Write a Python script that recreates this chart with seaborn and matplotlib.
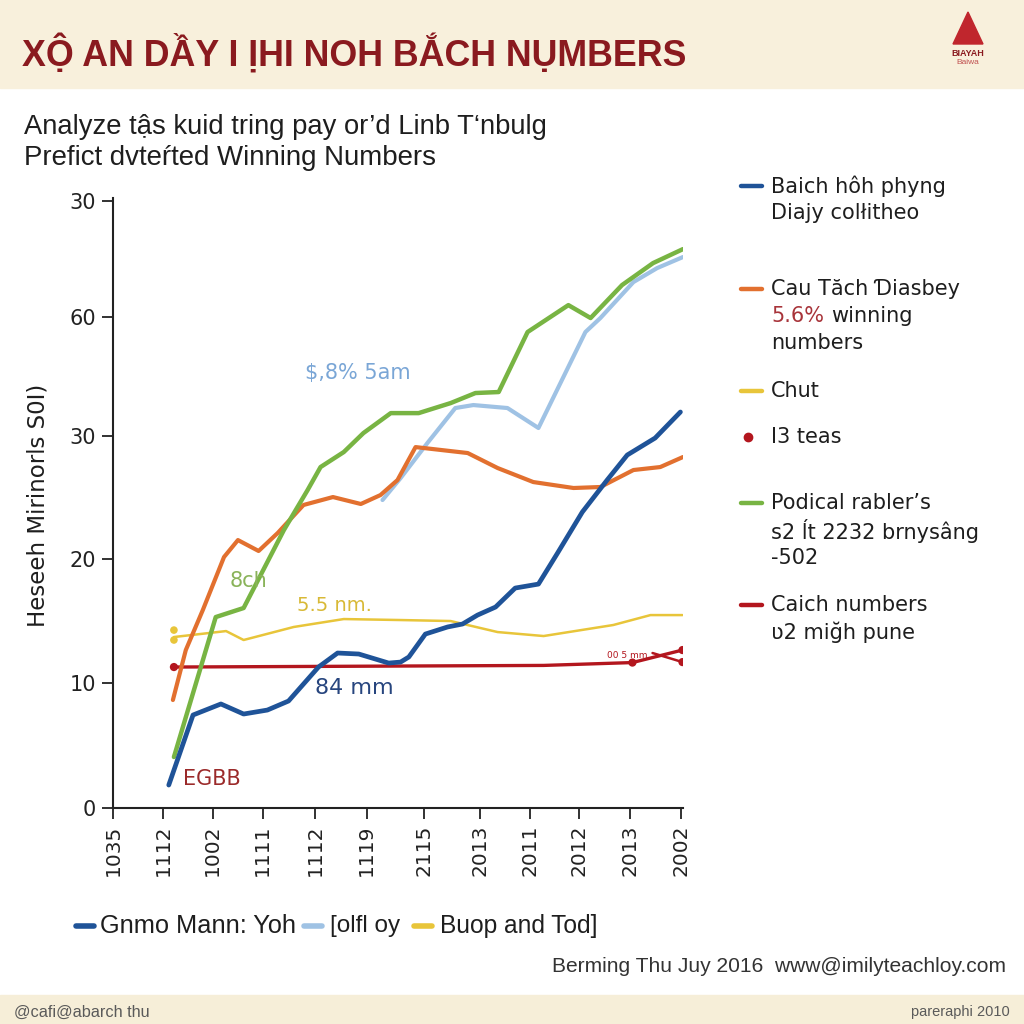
import numpy as np
import pandas as pd
import matplotlib
matplotlib.use("Agg")
import matplotlib.pyplot as plt
from matplotlib.patches import Rectangle, Polygon
from matplotlib.lines import Line2D
from matplotlib import font_manager
import seaborn as sns

# ---------------- data ----------------
x_tick_pos = [0, 0.97, 1.93, 2.90, 3.92, 4.91, 6.03, 7.10, 8.07, 9.03, 10.02, 11.0]
x_tick_labels = ["1035", "1112", "1002", "1111", "1112", "1119", "2115", "2013",
                 "2011", "2012", "2013", "2002"]
y_tick_pos = [0, 10.08, 20.08, 30.0, 39.6, 48.95]
y_tick_labels = ["0", "10", "20", "30", "60", "30"]

blue_x = [1.08, 1.55, 2.09, 2.53, 2.99, 3.40, 3.98, 4.35, 4.76, 5.34, 5.57, 5.73, 6.05, 6.48,
          6.77, 7.06, 7.41, 7.79, 8.24, 8.61, 9.09, 9.57, 9.96, 10.50, 10.99]
blue_y = [1.85, 7.5, 8.39, 7.58, 7.90, 8.63, 11.37, 12.5, 12.42, 11.69, 11.77, 12.18, 14.03,
          14.6, 14.84, 15.56, 16.21, 17.74, 18.06, 20.56, 23.87, 26.45, 28.47, 29.84, 31.94]

orange_x = [1.16, 1.41, 1.74, 2.15, 2.42, 2.82, 3.19, 3.69, 4.26, 4.80, 5.18, 5.51, 5.86,
            6.87, 7.45, 8.14, 8.92, 9.44, 10.08, 10.60, 11.04]
orange_y = [8.71, 12.74, 15.97, 20.24, 21.61, 20.73, 22.18, 24.44, 25.08, 24.52, 25.24, 26.45,
            29.11, 28.63, 27.42, 26.29, 25.81, 25.89, 27.26, 27.50, 28.31]

green_x = [1.18, 1.99, 2.53, 3.31, 3.77, 4.02, 4.47, 4.85, 5.38, 5.92, 6.54, 7.02, 7.47,
           8.03, 8.82, 9.25, 9.86, 10.46, 11.04]
green_y = [4.11, 15.40, 16.13, 22.42, 25.65, 27.50, 28.71, 30.24, 31.85, 31.85, 32.66, 33.47,
           33.55, 38.39, 40.56, 39.52, 42.18, 43.95, 45.08]

lightblue_x = [5.22, 5.57, 6.09, 6.63, 6.98, 7.64, 8.24, 9.15, 9.44, 10.08, 10.54, 11.04]
lightblue_y = [24.84, 26.61, 29.44, 32.26, 32.50, 32.26, 30.65, 38.39, 39.52, 42.42, 43.55, 44.44]

yellow_x = [1.18, 2.19, 2.53, 3.50, 4.47, 5.57, 6.54, 7.45, 8.34, 9.69, 10.41, 11.03]
yellow_y = [13.79, 14.27, 13.55, 14.60, 15.24, 15.16, 15.08, 14.19, 13.87, 14.76, 15.56, 15.56]
yellow_dot_x = [1.18, 1.18]
yellow_dot_y = [14.35, 13.55]

red_x = [1.18, 8.34, 10.06, 11.03]
red_y = [11.37, 11.5, 11.73, 12.74]
red2_x = [10.45, 11.03]
red2_y = [12.5, 11.77]
red_dot_x = [1.18, 10.06, 11.03, 11.03]
red_dot_y = [11.37, 11.73, 12.74, 11.77]

# ---------------- style ----------------
sns.set_theme(style="white")
plt.rcParams["font.family"] = ["DejaVu Sans"]

available = {f.name for f in font_manager.fontManager.ttflist}
narrow = "Liberation Sans Narrow" if "Liberation Sans Narrow" in available else "Liberation Sans"

W, H = 1024, 1024
fig = plt.figure(figsize=(10.24, 10.24), dpi=100, facecolor="white")
renderer = fig.canvas.get_renderer()

# header / footer bands
fig.patches.append(Rectangle((0, 1 - 88 / H), 1, 88 / H, transform=fig.transFigure,
                             color="#f8f0dc", zorder=0))
fig.patches.append(Rectangle((0, 0), 1, 29 / H, transform=fig.transFigure,
                             color="#f6eed8", zorder=0))


def fx(px):
    return px / W


def fy(py):
    return 1 - py / H


def fit_text(x_px, y_px, s, width_px, size, ha="left", **kw):
    t = fig.text(fx(x_px), fy(y_px), s, fontsize=size, va="center", ha=ha, **kw)
    bb = t.get_window_extent(renderer)
    if bb.width > 0:
        t.set_fontsize(size * width_px / bb.width)
    return t


# title
fit_text(22, 54, "XỘ AN DẦY I ỊHI NOH BẮCH NỤMBERS", 664, 30,
         family=[narrow, "DejaVu Sans"], weight="bold", color="#8a1a1f")

# logo
fig.patches.append(Polygon([[fx(968), fy(12)], [fx(953), fy(44)], [fx(983), fy(44)]],
                           closed=True, transform=fig.transFigure, color="#c0262d", zorder=2))
fig.text(fx(968), fy(53), "BIAYAH", fontsize=6.5, color="#8a1a1f", ha="center", va="center",
         weight="bold", family=[narrow, "DejaVu Sans"])
fig.text(fx(968), fy(63), "Baiwa", fontsize=6, color="#c05050", ha="center", va="center",
         family=[narrow, "DejaVu Sans"])

# subtitle
fit_text(24, 127, "Analyze tậs kuid tring pay or’d Linb T‘nbulg", 521, 20,
         family=[narrow, "DejaVu Sans"], color="#1e1e1e")
fit_text(24, 158, "Prefict dvteŕted Winning Numbers", 412, 20,
         family=[narrow, "DejaVu Sans"], color="#1e1e1e")

# ---------------- axes ----------------
ax = fig.add_axes([fx(113), fy(808), (683 - 113) / W, (808 - 198) / H])
ax.set_facecolor("none")

C_BLUE = "#1f5398"
C_ORANGE = "#e2702f"
C_GREEN = "#78b443"
C_LBLUE = "#9fc2e4"
C_YELLOW = "#e8c53a"
C_RED = "#b3161e"

sns.lineplot(x=yellow_x, y=yellow_y, color=C_YELLOW, lw=1.8, sort=False, ax=ax)
sns.lineplot(x=red_x, y=red_y, color=C_RED, lw=2.4, sort=False, ax=ax)
sns.lineplot(x=red2_x, y=red2_y, color=C_RED, lw=1.8, sort=False, ax=ax)
sns.lineplot(x=lightblue_x, y=lightblue_y, color=C_LBLUE, lw=3.0, sort=False, ax=ax)
sns.lineplot(x=orange_x, y=orange_y, color=C_ORANGE, lw=3.0, sort=False, ax=ax)
sns.lineplot(x=green_x, y=green_y, color=C_GREEN, lw=3.2, sort=False, ax=ax)
sns.lineplot(x=blue_x, y=blue_y, color=C_BLUE, lw=3.4, sort=False, ax=ax)
sns.scatterplot(x=yellow_dot_x, y=yellow_dot_y, color=C_YELLOW, s=30, edgecolor="none", ax=ax, zorder=5)
sns.scatterplot(x=red_dot_x, y=red_dot_y, color=C_RED, s=35, edgecolor="none", ax=ax, zorder=5)

ax.set_xlim(0, 11.04)
ax.set_ylim(0, 49.2)
ax.set_xticks(x_tick_pos)
ax.set_xticklabels(x_tick_labels, rotation=90, fontsize=14.5, color="#222222")
ax.set_yticks(y_tick_pos)
ax.set_yticklabels(y_tick_labels, fontsize=15, color="#222222")
ax.tick_params(axis="both", direction="out", length=8, width=1.3, color="#222222", pad=4,
               bottom=True, left=True)
for side in ["top", "right"]:
    ax.spines[side].set_visible(False)
for side in ["left", "bottom"]:
    ax.spines[side].set_color("#222222")
    ax.spines[side].set_linewidth(1.5)
ax.set_xlabel("")
ax.set_ylabel("")

fig.text(fx(38), fy(505), "Heseeh Mirinorls S0I)", rotation=90, fontsize=16.5,
         ha="center", va="center", color="#1e1e1e")

# in-plot annotations
ax.text(3.71, 35.1, "$,8% 5am", fontsize=15, color="#7aa6d6", va="center")
ax.text(2.26, 18.3, "8ch", fontsize=15, color="#8ab35a", va="center")
ax.text(3.56, 16.37, "5.5 nm.", fontsize=14, color="#d8b936", va="center")
ax.text(3.91, 9.68, "84 mm", fontsize=16, color="#27457e", va="center")
ax.text(1.35, 2.34, "EGBB", fontsize=15, color="#9b2a2a", va="center")
ax.text(9.57, 12.34, "00 5 mm", fontsize=6.5, color="#b3161e", va="center")

# ---------------- right legend ----------------
def handle_line(y_px, color, lw=3.2):
    fig.add_artist(Line2D([fx(741), fx(762)], [fy(y_px), fy(y_px)], transform=fig.transFigure,
                          color=color, lw=lw, solid_capstyle="round"))


def legend_text(y_px, s, color="#1e1e1e"):
    fig.text(fx(771), fy(y_px), s, fontsize=15, color=color, va="center", ha="left")


handle_line(186, C_BLUE)
legend_text(186, "Baich hôh phyng")
legend_text(213, "Diajy colłitheo")

handle_line(289, C_ORANGE)
legend_text(289, "Cau Tăch Ɗiasbey")
t1 = fig.text(fx(771), fy(316), "5.6%", fontsize=15, color="#a8343a", va="center", ha="left")
bb = t1.get_window_extent(renderer)
fig.text(fx(771) + (bb.width + 7) / W, fy(316), "winning", fontsize=15, color="#1e1e1e",
         va="center", ha="left")
legend_text(343, "numbers")

handle_line(391, C_YELLOW)
legend_text(391, "Chut")

fig.add_artist(Line2D([fx(748)], [fy(437)], transform=fig.transFigure, marker="o",
                      markersize=6, color=C_RED, lw=0))
legend_text(437, "I3 teas")

handle_line(503, C_GREEN)
legend_text(503, "Podical rabler’s")
legend_text(531, "s2 ĺt 2232 brnysâng")
legend_text(558, "-502")

handle_line(605, C_RED)
legend_text(605, "Caich numbers")
legend_text(632, "ʋ2 miğh pune")

# ---------------- bottom legend ----------------
def bottom_handle(x0, x1, color):
    fig.add_artist(Line2D([fx(x0), fx(x1)], [fy(926), fy(926)], transform=fig.transFigure,
                          color=color, lw=4, solid_capstyle="round"))


bottom_handle(76, 94, C_BLUE)
fit_text(100, 926, "Gnmo Mann: Yoh", 196, 16, family=[narrow, "DejaVu Sans"], color="#1e1e1e")
bottom_handle(304, 322, C_LBLUE)
fit_text(330, 926, "[olfl oy", 70, 16, family=[narrow, "DejaVu Sans"], color="#1e1e1e")
bottom_handle(414, 432, C_YELLOW)
fit_text(440, 926, "Buop and Tod]", 158, 16, family=[narrow, "DejaVu Sans"], color="#1e1e1e")

fit_text(1006, 966, "Berming Thu Juy 2016  www@imilyteachloy.com", 456, 14, ha="right",
         family=[narrow, "DejaVu Sans"], color="#333333")

fit_text(14, 1012, "@cafi@abarch thu", 136, 11, family=[narrow, "DejaVu Sans"], color="#5a5a5a")
fit_text(1010, 1012, "pareraphi 2010", 98, 11, ha="right", family=[narrow, "DejaVu Sans"],
         color="#5a5a5a")

fig.savefig("out.png", dpi=100, facecolor="white")
